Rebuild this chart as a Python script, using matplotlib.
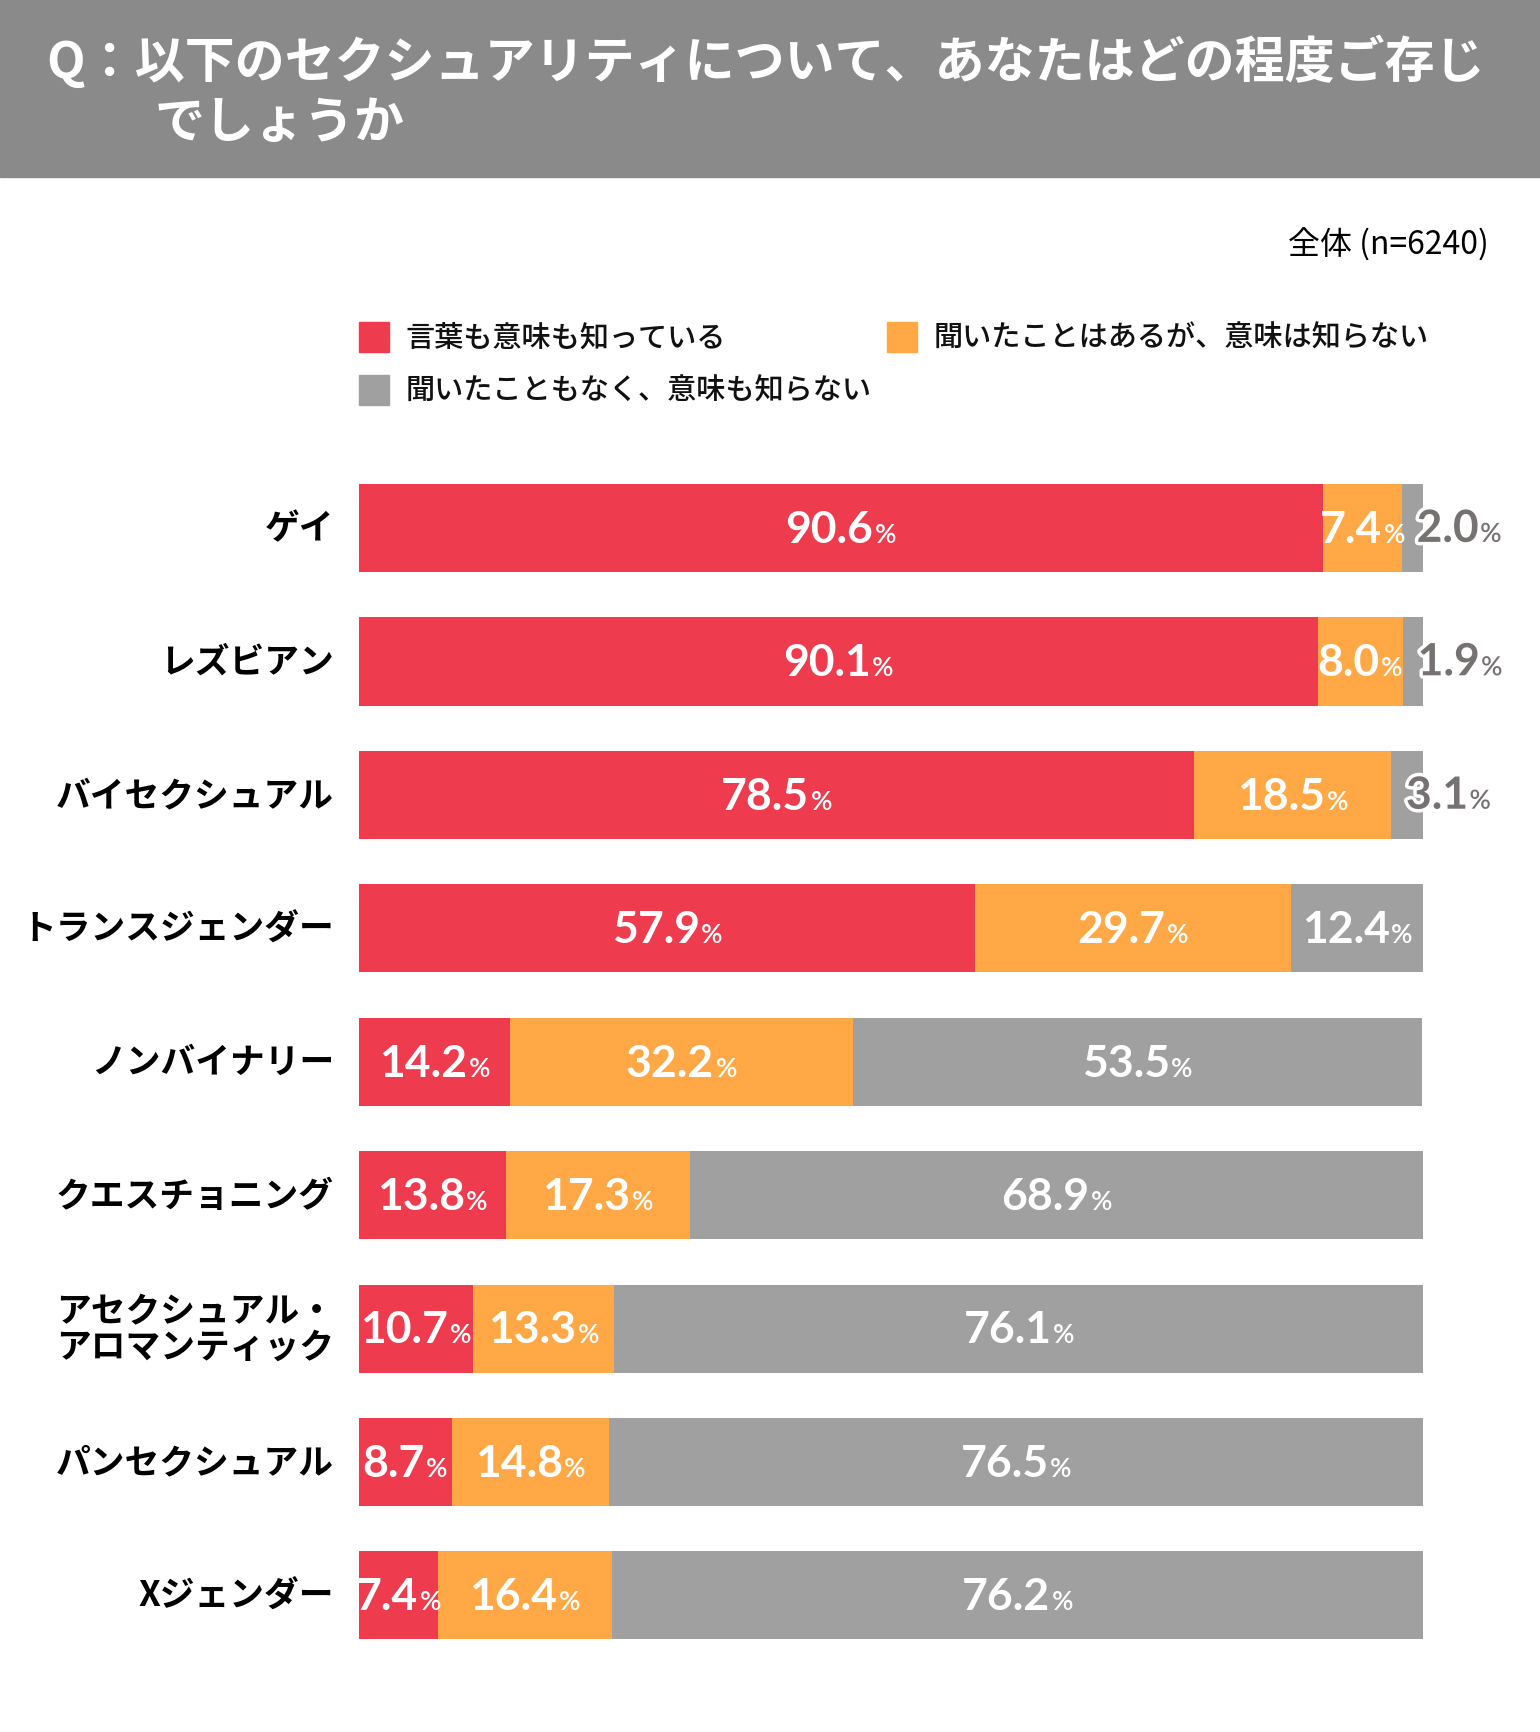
import matplotlib
matplotlib.use("Agg")
import matplotlib.pyplot as plt
import matplotlib.patheffects as pe
from matplotlib.patches import Rectangle
from matplotlib.offsetbox import TextArea, HPacker, AnnotationBbox

# data
categories = ["ゲイ", "レズビアン", "バイセクシュアル", "トランスジェンダー", "ノンバイナリー",
              "クエスチョニング", "アセクシュアル・\nアロマンティック", "パンセクシュアル", "Xジェンダー"]
know_both = [90.6, 90.1, 78.5, 57.9, 14.2, 13.8, 10.7, 8.7, 7.4]
heard_only = [7.4, 8.0, 18.5, 29.7, 32.2, 17.3, 13.3, 14.8, 16.4]
never_heard = [2.0, 1.9, 3.1, 12.4, 53.5, 68.9, 76.1, 76.5, 76.2]
series_names = ["言葉も意味も知っている", "聞いたことはあるが、意味は知らない", "聞いたこともなく、意味も知らない"]
colors = ["#EE3B4D", "#FFA845", "#A0A0A0"]

title_line1 = "Q：以下のセクシュアリティについて、あなたはどの程度ご存じ"
title_line2 = "でしょうか"
sample_note = "全体 (n=6240)"

JP = ["Noto Sans CJK JP", "DejaVu Sans"]
NUM = ["Lato", "DejaVu Sans"]
plt.rcParams["font.family"] = JP

W, H = 1540, 1733
fig = plt.figure(figsize=(W / 100, H / 100), dpi=100)
fig.patch.set_facecolor("white")

# header band
fig.add_artist(Rectangle((0, 1 - 178 / H), 1, 178 / H, transform=fig.transFigure,
                         color="#8A8A8A", zorder=0))
fig.text(46 / W, 1 - 62 / H, title_line1, color="white", fontsize=36, fontweight="bold",
         va="center", ha="left", family=JP)
fig.text(155 / W, 1 - 124 / H, title_line2, color="white", fontsize=36, fontweight="bold",
         va="center", ha="left", family=JP)

fig.text(1489 / W, 1 - 245 / H, sample_note, fontsize=23, ha="right", va="center", color="black")

# legend (manual)
leg_pos = [(359, 338), (887, 338), (359, 391)]
for (lx, ly), name, c in zip(leg_pos, series_names, colors):
    fig.add_artist(Rectangle((lx / W, 1 - (ly + 15) / H), 30 / W, 30 / H,
                             transform=fig.transFigure, color=c))
    fig.text((lx + 47) / W, 1 - ly / H, name, fontsize=21, va="center", ha="left",
             fontweight="medium", color="#111111")

ax = fig.add_axes([359 / W, 0.0403, 1064 / W, 0.6929])
y = list(range(len(categories)))
series = [know_both, heard_only, never_heard]
lefts = [0.0] * len(categories)
for vals, c in zip(series, colors):
    ax.barh(y, vals, left=lefts, height=0.66, color=c, edgecolor="none")
    for i, v in enumerate(vals):
        start = lefts[i]
        outside = v < 4
        tc = "#777272" if outside else "white"
        fx = [pe.withStroke(linewidth=5, foreground="white")] if outside else []
        num = TextArea(f"{v:.1f}", textprops=dict(fontsize=32, fontweight="bold", family=NUM,
                                                  color=tc, path_effects=fx))
        pct = TextArea("%", textprops=dict(fontsize=19, fontweight="semibold", family=NUM,
                                           color=tc, path_effects=fx))
        box = HPacker(children=[num, pct], align="baseline", pad=0, sep=1)
        if outside:
            ab = AnnotationBbox(box, (start + 1.4, i), xycoords="data", frameon=False,
                                box_alignment=(0, 0.52), pad=0, annotation_clip=False)
        else:
            ab = AnnotationBbox(box, (start + v / 2, i), xycoords="data", frameon=False,
                                box_alignment=(0.5, 0.52), pad=0, annotation_clip=False)
        ax.add_artist(ab)
    lefts = [l + v for l, v in zip(lefts, vals)]

ax.set_xlim(0, 100)
ax.set_ylim(len(categories) - 0.5, -0.5)
ax.axis("off")

for i, cat in enumerate(categories):
    ax.text(-0.0235, i, cat, transform=ax.get_yaxis_transform(), ha="right", va="center",
            fontsize=25, fontweight="bold", linespacing=1.02, color="black", family=JP)

fig.savefig("out.png", dpi=100)
